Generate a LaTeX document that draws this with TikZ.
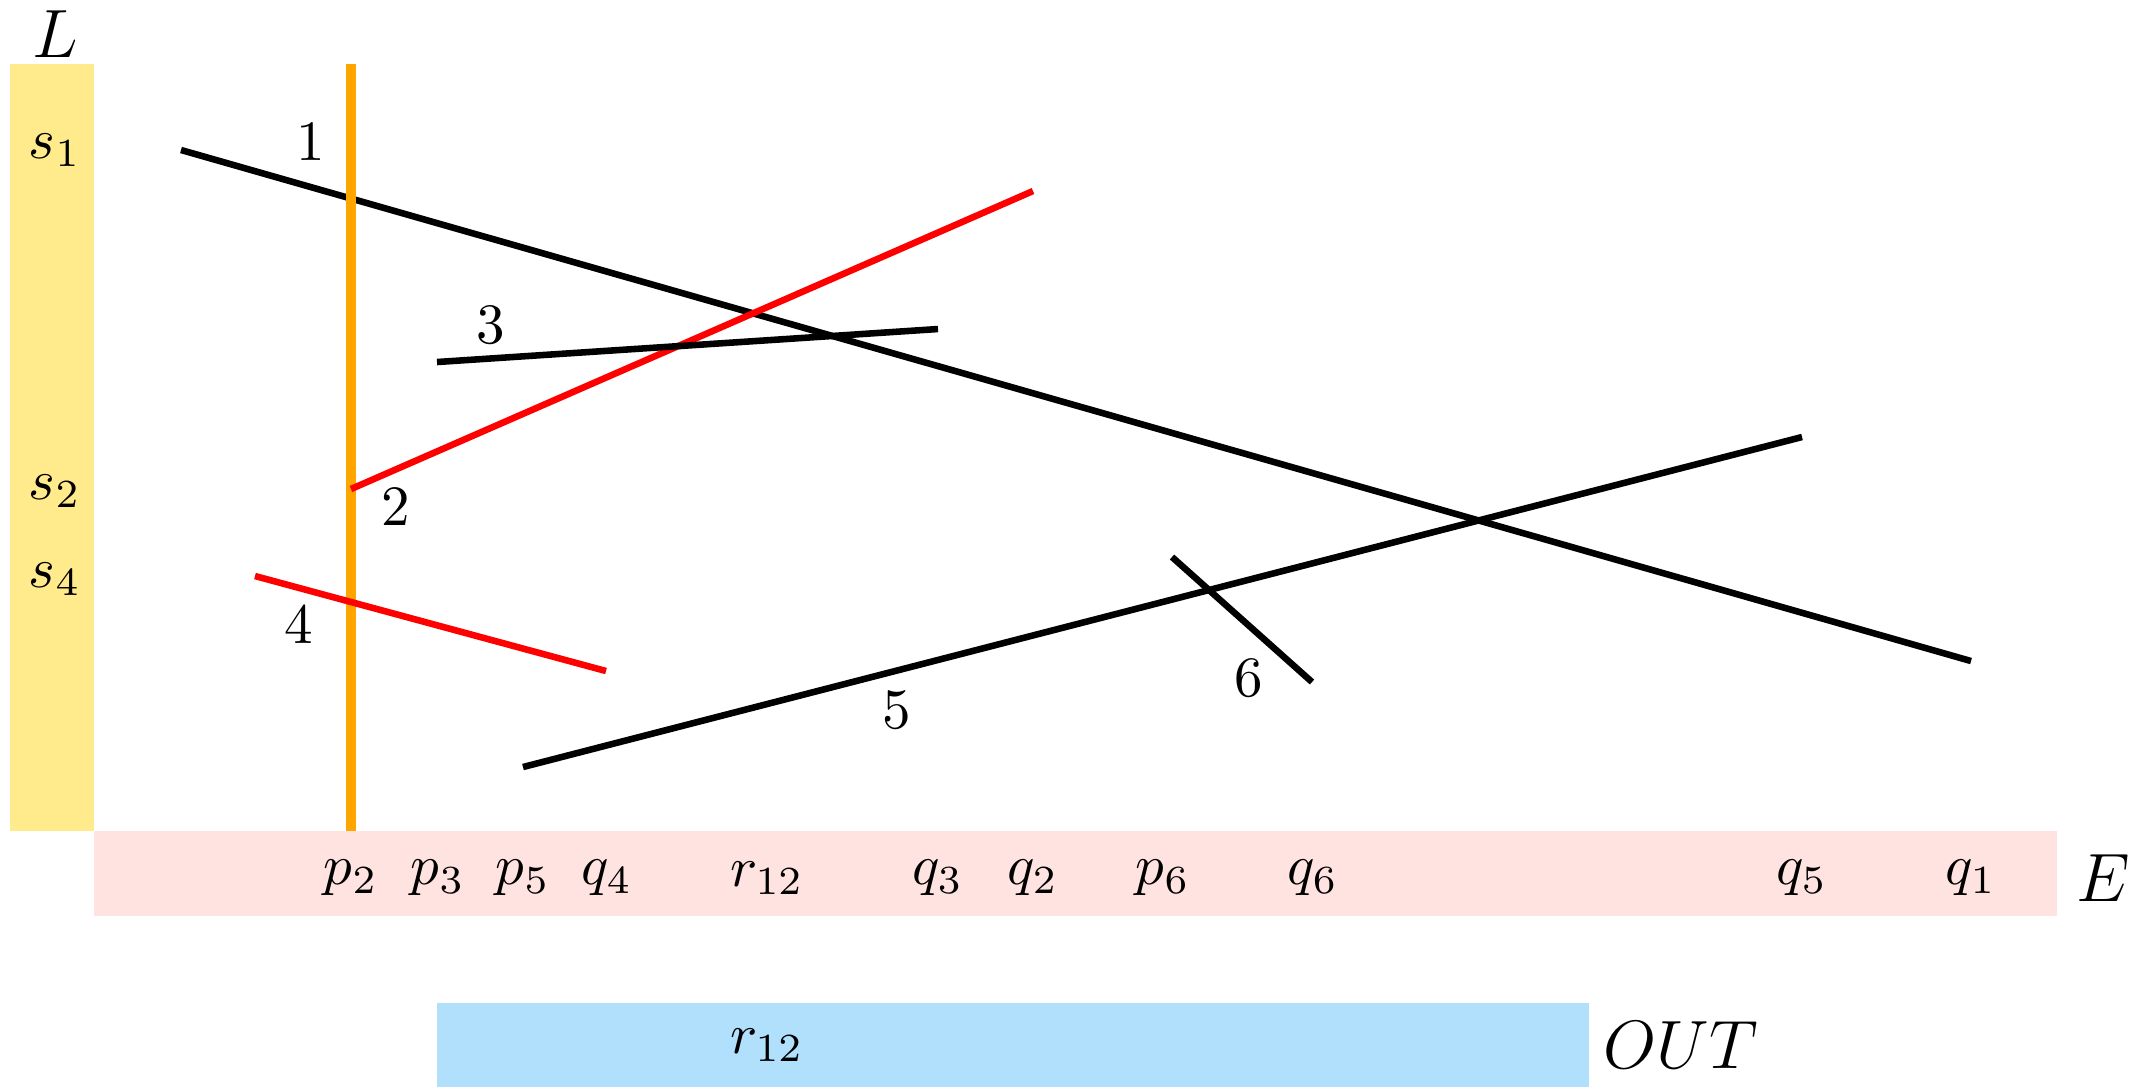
\documentclass[tikz,border=0pt]{standalone}
\definecolor{lyellow}{HTML}{FFEB8C}
\definecolor{lpink}{HTML}{FFE3E0}
\definecolor{lblue}{HTML}{B0E0FC}
\definecolor{segorange}{HTML}{FFA500}
\tikzset{
  seg/.style={line width=1.15pt, black},
  redseg/.style={line width=1.15pt, red},
  sweep/.style={line width=1.6pt, segorange},
  lab/.style={inner sep=0pt, font=\normalsize},
  biglab/.style={inner sep=0pt, font=\large},
}
\begin{document}
\begin{tikzpicture}[x=0.1754pt, y=-0.1754pt]
\useasboundingbox (0,0) rectangle (2140,1087);
% bands
\fill[lyellow] (9.5,64) rectangle (94,831);
\fill[lpink] (94,831) rectangle (2057,916);
\fill[lblue] (437,1003) rectangle (1589,1087);
% band labels
\node[biglab] (L) at (55,34) {$L$};
\node[biglab] (E) at (2103,878) {$E$};
\node[biglab] (OUT) at (1681,1045) {$OUT$};
\node[lab] (s1) at (55,150) {$s_1$};
\node[lab] (s2) at (55,491) {$s_2$};
\node[lab] (s4) at (55,579) {$s_4$};
% event labels
\node[lab] (ep2) at (351,878) {$p_2$};
\node[lab] (ep3) at (438,878) {$p_3$};
\node[lab] (ep5) at (523,878) {$p_5$};
\node[lab] (eq4) at (607,878) {$q_4$};
\node[lab] (er12) at (767,878) {$r_{12}$};
\node[lab] (eq3) at (938,878) {$q_3$};
\node[lab] (eq2) at (1033,878) {$q_2$};
\node[lab] (ep6) at (1163,878) {$p_6$};
\node[lab] (eq6) at (1313,878) {$q_6$};
\node[lab] (eq5) at (1802,878) {$q_5$};
\node[lab] (eq1) at (1971,878) {$q_1$};
\node[lab] (or12) at (767,1045) {$r_{12}$};
% segment end points
\coordinate (p1) at (181,150);  \coordinate (q1) at (1971,661);
\coordinate (p2) at (351,489);  \coordinate (q2) at (1033,191);
\coordinate (p3) at (437,362);  \coordinate (q3) at (938,329);
\coordinate (p4) at (255,576);  \coordinate (q4) at (606,671);
\coordinate (p5) at (523,767);  \coordinate (q5) at (1802,437);
\coordinate (p6) at (1172,557); \coordinate (q6) at (1312,682);
\coordinate (st) at (351,64);   \coordinate (sb) at (351,831);
% segments
\draw[seg] (p1) -- (q1);
\draw[sweep] (st) -- (sb);
\draw[redseg] (p2) -- (q2);
\draw[seg] (p3) -- (q3);
\draw[redseg] (p4) -- (q4);
\draw[seg] (p5) -- (q5);
\draw[seg] (p6) -- (q6);
% segment numbers
\node[lab] (n1) at (311,141) {1};
\node[lab] (n2) at (396,506) {2};
\node[lab] (n3) at (491,325) {3};
\node[lab] (n4) at (299,624) {4};
\node[lab] (n5) at (897,710) {5};
\node[lab] (n6) at (1249,678) {6};
\end{tikzpicture}
\end{document}
